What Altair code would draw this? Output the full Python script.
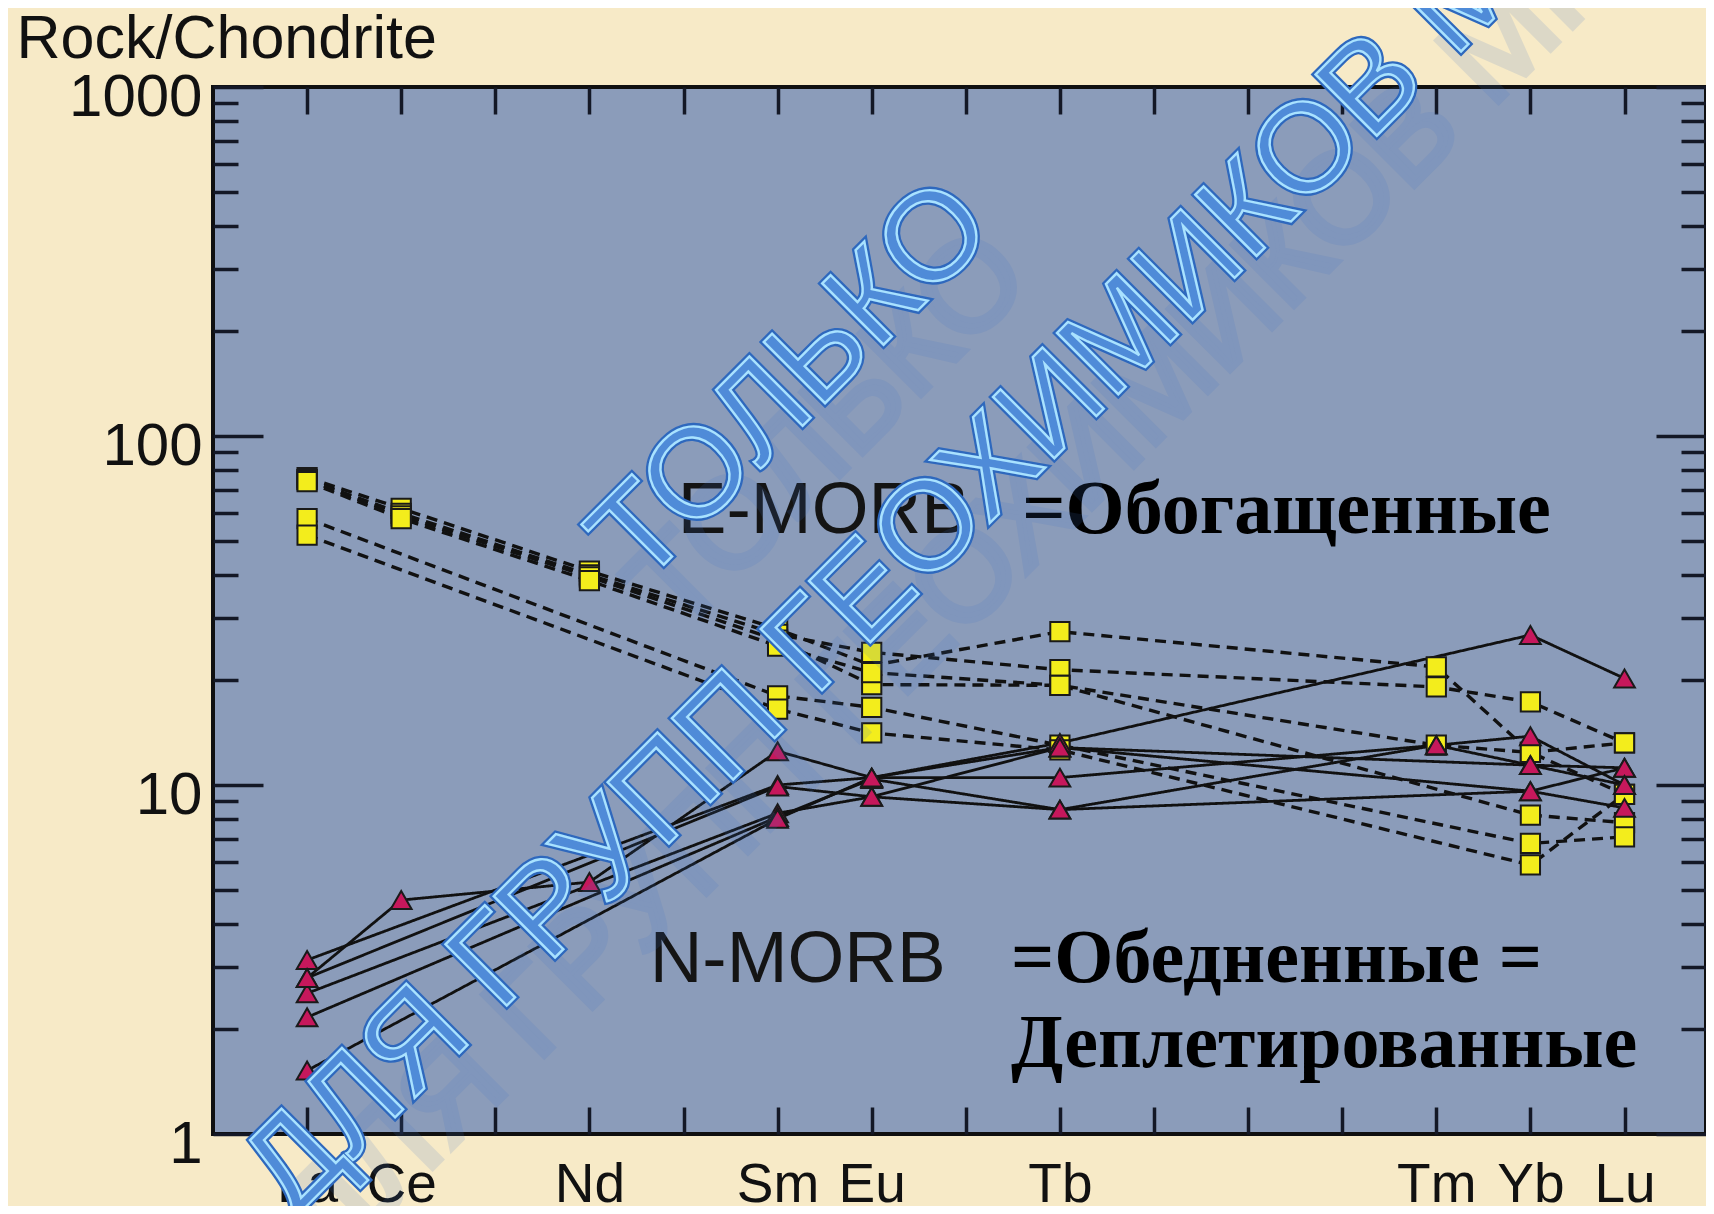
import altair as alt
import pandas as pd

# ---------------- data ----------------
elements = ["La", "Ce", "Pr", "Nd", "Pm", "Sm", "Eu", "Gd", "Tb", "Dy", "Ho", "Er", "Tm", "Yb", "Lu"]
measured = ["La", "Ce", "Nd", "Sm", "Eu", "Tb", "Tm", "Yb", "Lu"]

# E-MORB samples (Rock/Chondrite), order = measured, None = not analysed
emorb = {
    "E1": [76, 62, 41, 28, 22, 27.5, 21.8, 12.4, 9.4],
    "E2": [75, 60, 40, 27, 24, 21.4, 19.1, 17.3, 13.2],
    "E3": [75, 59, 39.5, 26, 19.4, 19.3, None, 8.2, 7.8],
    "E4": [74, 58, 38.5, 25, 21, 19.3, 13.0, 12.4, 13.2],
    "E5": [58, None, None, 18, 16.7, 13.0, None, 6.8, 7.1],
    "E6": [52, None, None, 16.5, 14.1, 12.6, None, 5.9, 9.4],
}
# N-MORB samples
nmorb = {
    "N1": [2.80, 4.68, 5.27, 12.5, 10.5, 12.8, None, 9.6, 11.2],
    "N2": [3.15, None, None, 10.0, 10.5, 10.5, 13.0, 13.8, 10.0],
    "N3": [2.53, None, None, 8.3, 9.25, 8.5, None, 9.6, 8.6],
    "N4": [2.16, None, None, 8.1, 10.4, 8.5, 13.0, 11.4, 11.2],
    "N5": [1.52, None, None, 8.0, 10.5, 13.2, None, 26.9, 20.2],
    "N6": [2.80, None, None, 9.9, 9.25, 12.8, None, 11.4, 10.0],
}

y_major = [1, 10, 100, 1000]
y_minor = [2, 3, 4, 5, 6, 7, 8, 9, 20, 30, 40, 50, 60, 70, 80, 90,
           200, 300, 400, 500, 600, 700, 800, 900]

morb_labels = ["E-MORB", "N-MORB"]
morb_x = [3.94, 3.64]
morb_y = [52.7, 2.73]

ru_labels = ["=Обогащенные", "=Обедненные =", "Деплетированные"]
ru_x = [7.6, 7.48, 7.48]
ru_y = [52.7, 2.73, 1.556]

wm1_labels = ["ТОЛЬКО"]
wm1_x = [5.15]
wm1_y = [142.0]
wm2_labels = ["ДЛЯ ГРУПП ГЕОХИМИКОВ МГУ"]
wm2_x = [-0.45]
wm2_y = [0.673]

# ---------------- tables ----------------
rows = []
for group, samples in (("E-MORB", emorb), ("N-MORB", nmorb)):
    for name, vals in samples.items():
        for el, v in zip(measured, vals):
            if v is not None:
                rows.append({"sample": name, "group": group, "element": el,
                             "pos": elements.index(el), "value": v})
df = pd.DataFrame(rows)

morb_df = pd.DataFrame({"label": morb_labels, "x": morb_x, "y": morb_y})
ru_df = pd.DataFrame({"label": ru_labels, "x": ru_x, "y": ru_y})
wm1_df = pd.DataFrame({"label": wm1_labels, "x": wm1_x, "y": wm1_y})
wm2_df = pd.DataFrame({"label": wm2_labels, "x": wm2_x, "y": wm2_y})

# ---------------- scales / axes ----------------
W, H = 1493, 1047
xscale = alt.Scale(domain=[-1, 14.866], nice=False, zero=False)
yscale = alt.Scale(type="log", domain=[1, 1000], nice=False)

label_arr = "[" + ",".join("'" + (e if e in measured else "") + "'" for e in elements) + "]"
positions = list(range(len(elements)))
TICK = "#141826"
FONT = "Liberation Sans"

ax_x_labels = alt.Axis(values=positions, labelExpr=label_arr + "[datum.value]", ticks=False,
                       tickSize=0, domain=False, grid=False, labelFont=FONT, labelFontSize=55,
                       labelColor="#111111", labelPadding=24, labelBaseline="top",
                       labelFlush=False, labelOverlap=False, title=None, orient="bottom")
ax_x_bottom = alt.Axis(values=positions, labels=False, domain=False, grid=False, tickSize=27,
                       tickWidth=3.5, tickColor=TICK, offset=-27, title=None, orient="bottom")
ax_x_top = alt.Axis(values=positions, labels=False, domain=False, grid=False, tickSize=27,
                    tickWidth=3.5, tickColor=TICK, offset=-27, title=None, orient="top")

ax_y_labels = alt.Axis(values=y_major, format="d", ticks=False, tickSize=0, domain=False, grid=False,
                       labelFont=FONT, labelFontSize=60, labelColor="#111111", labelPadding=11,
                       labelOffset=10, labelBaseline="middle", labelFlush=False, orient="left",
                       title="Rock/Chondrite", titleAngle=0, titleX=-197, titleY=-30,
                       titleAlign="left", titleBaseline="alphabetic", titleFont=FONT,
                       titleFontSize=61, titleFontWeight="normal", titleColor="#111111")
ax_y_left_major = alt.Axis(values=y_major, labels=False, domain=False, grid=False, tickSize=50,
                           tickWidth=3.5, tickColor=TICK, offset=-50, title=None, orient="left")
ax_y_left_minor = alt.Axis(values=y_minor, labels=False, domain=False, grid=False, tickSize=25,
                           tickWidth=3.5, tickColor=TICK, offset=-25, title=None, orient="left")
ax_y_right_major = alt.Axis(values=y_major, labels=False, domain=False, grid=False, tickSize=50,
                            tickWidth=3.5, tickColor=TICK, offset=-50, title=None, orient="right")
ax_y_right_minor = alt.Axis(values=y_minor, labels=False, domain=False, grid=False, tickSize=25,
                            tickWidth=3.5, tickColor=TICK, offset=-25, title=None, orient="right")

groups = ["E-MORB", "N-MORB"]

# ---------------- layers ----------------
lines = alt.Chart(df).mark_line(color="#111111").encode(
    x=alt.X("pos:Q", scale=xscale, axis=ax_x_labels),
    y=alt.Y("value:Q", scale=yscale, axis=ax_y_labels),
    detail="sample:N",
    order="pos:Q",
    strokeDash=alt.StrokeDash("group:N", scale=alt.Scale(domain=groups, range=[[11, 7], [1, 0]]), legend=None),
    strokeWidth=alt.StrokeWidth("group:N", scale=alt.Scale(domain=groups, range=[3.4, 2.8]), legend=None),
)

points = alt.Chart(df).mark_point(filled=True, opacity=1, stroke="#1a1a1a", strokeWidth=2).encode(
    x=alt.X("pos:Q", scale=xscale, axis=ax_x_bottom),
    y=alt.Y("value:Q", scale=yscale, axis=ax_y_left_major),
    shape=alt.Shape("group:N", scale=alt.Scale(domain=groups, range=["square", "triangle-up"]), legend=None),
    fill=alt.Fill("group:N", scale=alt.Scale(domain=groups, range=["#f3ed1c", "#c6185c"]), legend=None),
    size=alt.Size("group:N", scale=alt.Scale(domain=groups, range=[370, 430]), legend=None),
    order=alt.Order("group:N"),
)

morb_text = alt.Chart(morb_df).mark_text(font=FONT, fontSize=73, align="left", baseline="alphabetic",
                                         color="#141414").encode(
    x=alt.X("x:Q", scale=xscale, axis=ax_x_top),
    y=alt.Y("y:Q", scale=yscale, axis=ax_y_left_minor),
    text="label:N",
)

ru_text = alt.Chart(ru_df).mark_text(font="Liberation Serif", fontSize=76, fontWeight="bold",
                                     align="left", baseline="alphabetic", color="#000000").encode(
    x=alt.X("x:Q", scale=xscale, axis=None),
    y=alt.Y("y:Q", scale=yscale, axis=ax_y_right_major),
    text="label:N",
)

WM_SIZE = 126


def wm_layer(data, align, kind, yaxis=None):
    base = dict(font=FONT, fontSize=WM_SIZE, angle=315, baseline="middle", align=align)
    if kind == "shadow":
        mark = alt.Chart(data).mark_text(**base, dx=-9, dy=62, fill="#3f73c8", stroke="#3f73c8",
                                         strokeWidth=6, opacity=0.14)
    elif kind == "outline":
        mark = alt.Chart(data).mark_text(**base, fill="#2e68bd", stroke="#2e68bd", strokeWidth=7)
    else:
        mark = alt.Chart(data).mark_text(**base, fill="#4f8bd8", stroke="#a9e2ff", strokeWidth=2.4)
    return mark.encode(
        x=alt.X("x:Q", scale=xscale, axis=None),
        y=alt.Y("y:Q", scale=yscale, axis=yaxis),
        text="label:N",
    )


wm_layers = [
    wm_layer(wm1_df, "center", "shadow", ax_y_right_minor),
    wm_layer(wm2_df, "left", "shadow"),
    wm_layer(wm1_df, "center", "outline"),
    wm_layer(wm2_df, "left", "outline"),
    wm_layer(wm1_df, "center", "main"),
    wm_layer(wm2_df, "left", "main"),
]

chart = alt.layer(lines, points, morb_text, ru_text, *wm_layers).resolve_axis(
    x="independent", y="independent"
).properties(
    width=W, height=H,
    background="#f7eac7",
    autosize=alt.AutoSizeParams(type="none"),
    padding={"left": 205, "top": 79, "right": 0, "bottom": 72},
).configure_view(fill="#8b9cba", stroke="#101010", strokeWidth=4)

chart.save("out.html", embed_options={"renderer": "svg", "actions": False})
